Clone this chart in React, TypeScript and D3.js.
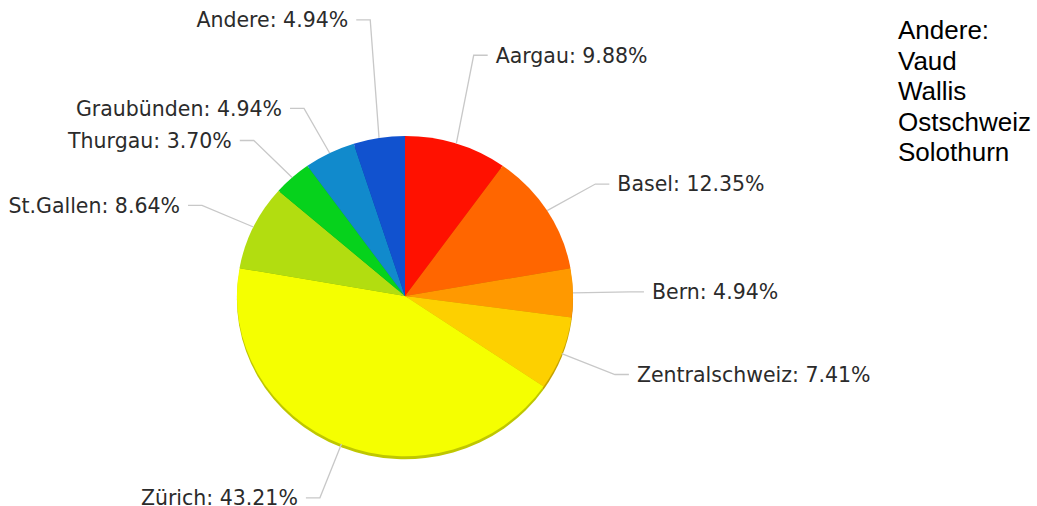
import React from 'react';
import { pie, arc, color } from 'd3';

// counts per region (81 total), clockwise from 12 o'clock
const regions = [
  'Aargau',
  'Basel',
  'Bern',
  'Zentralschweiz',
  'Zürich',
  'St.Gallen',
  'Thurgau',
  'Graubünden',
  'Andere',
];
const counts = [8, 10, 4, 6, 35, 7, 3, 4, 4];
const percentLabels = ['9.88%', '12.35%', '4.94%', '7.41%', '43.21%', '8.64%', '3.70%', '4.94%', '4.94%'];
const sliceColors = [
  '#ff1100',
  '#ff6600',
  '#ff9900',
  '#fdd000',
  '#f5ff00',
  '#b2dd10',
  '#06d21c',
  '#118acc',
  '#1152cf',
];
const otherRegions = ['Andere:', 'Vaud', 'Wallis', 'Ostschweiz', 'Solothurn'];

const W = 1037;
const H = 506;

function App() {
  const cx = 405;
  const cy = 296;
  const rx = 168;
  const ry = 160;
  const depth = 3;

  const slices = pie<number>().sort(null).value((d) => d)(counts);
  // unit arc, stretched into an ellipse by the group transform
  const unitArc = arc<any>().innerRadius(0).outerRadius(1);

  const labels = slices.map((s, i) => {
    const mid = (s.startAngle + s.endAngle) / 2;
    const sin = Math.sin(mid);
    const cos = Math.cos(mid);
    const edge: [number, number] = [cx + rx * sin, cy - ry * cos];
    const labRy = cos > 0 ? 210 : 218;
    // labels crowding at the top are pushed further up
    const ey = cy - labRy * cos - 780 * Math.max(0, cos - 0.9);
    const ex = cx + 225 * sin;
    const right = sin >= 0;
    const hx = right ? ex + 14 : ex - 14;
    const tx = right ? ex + 22 : ex - 22;
    return { i, edge, ex, ey, hx, tx, right };
  });

  return (
    <svg width={W} height={H} style={{ position: 'absolute', left: 0, top: 0 }}>
      <rect width={W} height={H} fill="#fff" />
      {/* side (depth) */}
      <g transform={`translate(${cx},${cy + depth}) scale(${rx},${ry})`}>
        {slices.map((s, i) => (
          <path key={i} d={unitArc(s) || ''} fill={color(sliceColors[i])!.darker(0.7).toString()} />
        ))}
      </g>
      {/* top face */}
      <g transform={`translate(${cx},${cy}) scale(${rx},${ry})`}>
        {slices.map((s, i) => (
          <path key={i} d={unitArc(s) || ''} fill={sliceColors[i]} />
        ))}
      </g>
      {/* leader lines and labels */}
      <g fontFamily="'DejaVu Sans', sans-serif" fontSize={20.5} fill="#2b2b2b">
        {labels.map((l) => (
          <g key={l.i}>
            <polyline
              points={`${l.edge[0]},${l.edge[1]} ${l.ex},${l.ey} ${l.hx},${l.ey}`}
              fill="none"
              stroke="#c8c8c8"
              strokeWidth={1.3}
            />
            <text x={l.tx} y={l.ey} dy="0.36em" textAnchor={l.right ? 'start' : 'end'}>
              {`${regions[l.i]}: ${percentLabels[l.i]}`}
            </text>
          </g>
        ))}
      </g>
      <g fontFamily="'Liberation Sans', Arial, sans-serif" fontSize={26} fill="#000">
        {otherRegions.map((t, i) => (
          <text key={t} x={898} y={39 + i * 30.5}>
            {t}
          </text>
        ))}
      </g>
    </svg>
  );
}

export default App;
